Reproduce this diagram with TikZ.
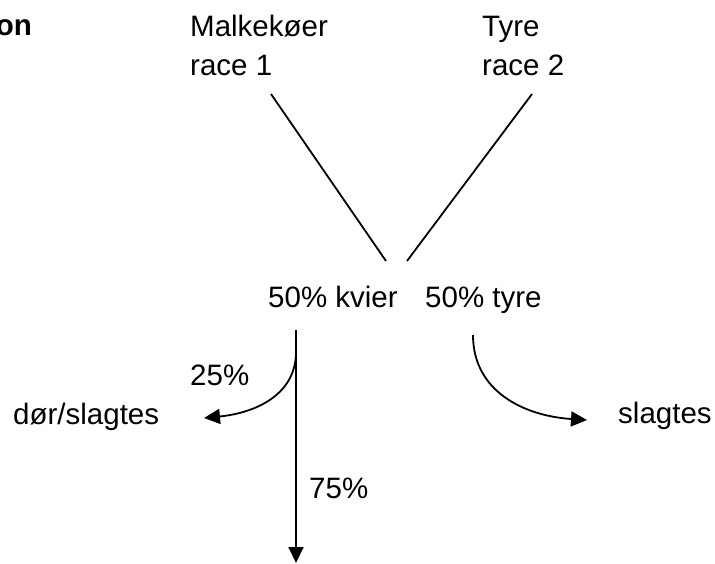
\documentclass[tikz,border=0pt]{standalone}
\usepackage{fontspec}
\setmainfont{Liberation Sans}
\usetikzlibrary{arrows.meta}
\begin{document}
\begin{tikzpicture}[x=1pt,y=-1pt,
  lbl/.style={inner sep=0pt,anchor=base west,font=\fontsize{29.5}{35}\selectfont},
  conn/.style={line width=1.8pt,draw=black},
  tip/.style={-{Triangle[length=16pt,width=15pt]}}]
  \useasboundingbox (0,0) rectangle (715,563);

  % heading fragment and parent breeds
  \node[inner sep=0pt,anchor=base east,font=\fontsize{29.5}{35}\selectfont\bfseries] (hd) at (32,35) {on};
  \node[lbl] (m1) at (190,36) {Malkekøer};
  \node[lbl] (m2) at (190,75) {race 1};
  \node[lbl] (t1) at (482,36) {Tyre};
  \node[lbl] (t2) at (482,75) {race 2};

  % offspring
  \node[lbl] (kv) at (268,307) {50\% kvier};
  \node[lbl] (ty) at (425,307) {50\% tyre};

  % outcomes
  \node[lbl] (p25) at (190,385) {25\%};
  \node[lbl] (ds) at (13,424) {dør/slagtes};
  \node[lbl] (sl) at (618,423) {slagtes};
  \node[lbl] (p75) at (309,498) {75\%};

  % crossing lines
  \coordinate (mtop) at (271,94);
  \coordinate (mbot) at (386,261);
  \coordinate (ttop) at (532,94);
  \coordinate (tbot) at (407,261);
  \draw[conn] (mtop) -- (mbot);
  \draw[conn] (ttop) -- (tbot);

  % heifers: 75% kept, 25% culled
  \coordinate (vtop) at (296,330);
  \coordinate (vbot) at (296,563);
  \coordinate (vfork) at (296,352);
  \coordinate (ltip) at (204,418);
  \draw[conn,tip] (vtop) -- (vbot);
  \draw[conn,tip] (vfork) .. controls (296,395) and (255,413) .. (ltip);

  % bulls: slaughtered
  \coordinate (rstart) at (473,335);
  \coordinate (rtip) at (587,420);
  \draw[conn,tip] (rstart) .. controls (473,392) and (525,416) .. (rtip);
\end{tikzpicture}
\end{document}
